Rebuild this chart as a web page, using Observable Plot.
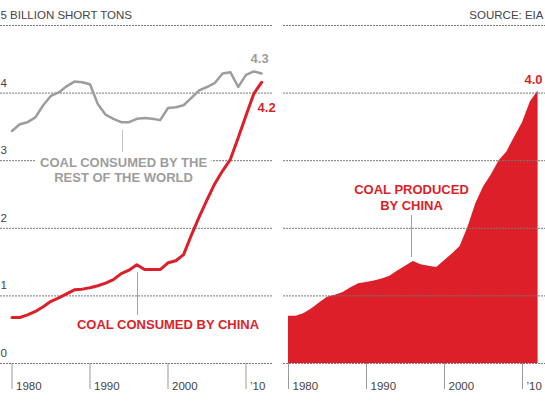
<!DOCTYPE html>
<html><head><meta charset="utf-8">
<script src="https://cdn.jsdelivr.net/npm/d3@7"></script>
<script src="https://cdn.jsdelivr.net/npm/@observablehq/plot@0.6"></script>
<style>
html,body{margin:0;padding:0;background:#fff;}
#chart{position:relative;width:545px;height:405px;overflow:hidden;}
#left,#right{position:absolute;top:0;}
#left{left:0;} #right{left:275px;}
svg{overflow:visible;}
</style></head><body>
<div id="chart"><div id="left"></div><div id="right"></div></div>
<script>
const years = [1980,1981,1982,1983,1984,1985,1986,1987,1988,1989,1990,1991,1992,1993,1994,1995,1996,1997,1998,1999,2000,2001,2002,2003,2004,2005,2006,2007,2008,2009,2010,2011,2012];
const restOfWorld = [3.44,3.54,3.57,3.64,3.82,3.96,4.01,4.10,4.17,4.16,4.13,3.84,3.68,3.62,3.57,3.57,3.62,3.63,3.62,3.60,3.78,3.79,3.82,3.93,4.04,4.09,4.15,4.29,4.31,4.09,4.27,4.32,4.29];
const chinaConsumed = [0.68,0.68,0.72,0.77,0.84,0.92,0.97,1.03,1.09,1.10,1.12,1.15,1.19,1.24,1.33,1.38,1.46,1.39,1.39,1.39,1.49,1.52,1.61,1.90,2.17,2.42,2.66,2.85,3.02,3.34,3.67,3.99,4.16];
const chinaProduced = [0.70,0.70,0.74,0.81,0.90,0.98,1.01,1.05,1.12,1.18,1.20,1.22,1.25,1.29,1.37,1.44,1.51,1.46,1.44,1.42,1.52,1.62,1.73,2.01,2.36,2.61,2.79,3.00,3.13,3.35,3.56,3.87,4.03];
const yTicks = [0,1,2,3,4,5];
const yTickLabels = ["0","1","2","3","4","5 BILLION SHORT TONS"];
const xTicks = [1980,1990,2000,2010];
const xTickLabels = ["1980","1990","2000","\u201910"];
const sourceText = "SOURCE: EIA";

// annotations (data units)
const greyNote = {x: 1994.3, y: 2.692, text: "COAL CONSUMED BY THE\nREST OF THE WORLD"};
const greyPointer = {x: 1994.17, y1: 3.447, y2: 3.121};
const redNote = {x: 2000.0, y: 0.503, text: "COAL CONSUMED BY CHINA"};
const redPointer = {x: 1996.09, y1: 1.346, y2: 0.71};
const prodNote = {x: 1995.77, y: 2.278, text: "COAL PRODUCED\nBY CHINA"};
const prodPointer = {x: 1995.77, y1: 2.19, y2: 1.568};

const RED = "#dc1f29", GREY = "#9d9d9d", INK = "#444", GRID = "#777";
const FONT = "'Liberation Sans', Arial, Helvetica, sans-serif";

const rows = years.map((year, i) => ({year, rest: restOfWorld[i], consumed: chinaConsumed[i], produced: chinaProduced[i]}));
const last = rows[rows.length - 1];

const left = Plot.plot({
  width: 275, height: 405,
  marginLeft: 0, marginRight: 3, marginTop: 25, marginBottom: 42,
  x: {domain: [1978.526, 2013.397]},
  y: {domain: [0, 5], axis: null},
  style: {fontFamily: FONT, background: "transparent", overflow: "visible"},
  marks: [
    Plot.ruleY(yTicks, {y: d => d, stroke: GRID, strokeDasharray: "2,1"}),
    Plot.text(yTicks, {y: d => d, text: (d, i) => yTickLabels[i], frameAnchor: "left", textAnchor: "start", lineAnchor: "bottom", dy: -6.5, fontSize: 11.5, fill: INK}),
    Plot.axisX(xTicks, {tickSize: 26, fill: "none", stroke: "#999"}),
    Plot.text(xTicks, {x: d => d, text: (d, i) => xTickLabels[i], frameAnchor: "bottom", dy: 26, dx: 4, lineAnchor: "bottom", textAnchor: "start", fontSize: 11.5, fill: INK}),
    Plot.text([greyNote], {x: "x", y: "y", text: "text", lineAnchor: "bottom", lineHeight: 1.154, fontSize: 13, fontWeight: "bold", fill: GREY, stroke: "white", strokeWidth: 10, strokeLinejoin: "round", paintOrder: "stroke"}),
    Plot.ruleX([greyPointer], {x: "x", y1: "y1", y2: "y2", stroke: "#c4c4c4", strokeWidth: 1}),
    Plot.ruleX([redPointer], {x: "x", y1: "y1", y2: "y2", stroke: RED, strokeOpacity: 0.55, strokeWidth: 1}),
    Plot.line(rows, {x: "year", y: "rest", stroke: GREY, strokeWidth: 2.5}),
    Plot.line(rows, {x: "year", y: "consumed", stroke: RED, strokeWidth: 3}),
    Plot.text([redNote], {x: "x", y: "y", text: "text", lineAnchor: "bottom", fontSize: 13, fontWeight: "bold", fill: RED}),
    Plot.text([last], {x: "year", y: "rest", text: d => d.rest.toFixed(1), textAnchor: "middle", lineAnchor: "bottom", dx: -2, dy: -10, fontSize: 13, fontWeight: "bold", fill: GREY}),
    Plot.text([last], {x: "year", y: "consumed", text: d => d.consumed.toFixed(1), textAnchor: "start", lineAnchor: "bottom", dx: -4, dy: 30, fontSize: 13, fontWeight: "bold", fill: RED})
  ]
});
document.getElementById("left").appendChild(left);

const right = Plot.plot({
  width: 270, height: 405,
  marginLeft: 8, marginRight: 0, marginTop: 25, marginBottom: 42,
  x: {domain: [1979.359, 2012.949]},
  y: {domain: [0, 5], axis: null},
  style: {fontFamily: FONT, background: "transparent", overflow: "visible"},
  marks: [
    Plot.areaY(rows, {x: "year", y: "produced", fill: RED}),
    Plot.ruleY(yTicks, {y: d => d, stroke: GRID, strokeDasharray: "2,1"}),
    Plot.text([sourceText], {text: d => d, frameAnchor: "top-right", textAnchor: "end", lineAnchor: "bottom", dx: -2, dy: -6.5, fontSize: 11.5, fill: INK}),
    Plot.axisX(xTicks, {tickSize: 26, fill: "none", stroke: "#999"}),
    Plot.text(xTicks, {x: d => d, text: (d, i) => xTickLabels[i], frameAnchor: "bottom", dy: 26, dx: 4, lineAnchor: "bottom", textAnchor: "start", fontSize: 11.5, fill: INK}),
    Plot.ruleX([prodPointer], {x: "x", y1: "y1", y2: "y2", stroke: RED, strokeOpacity: 0.55, strokeWidth: 1}),
    Plot.text([prodNote], {x: "x", y: "y", text: "text", lineAnchor: "bottom", lineHeight: 1.23, fontSize: 13, fontWeight: "bold", fill: RED}),
    Plot.text([last], {x: "year", y: "produced", text: d => d.produced.toFixed(1), textAnchor: "end", lineAnchor: "bottom", dx: 4.5, dy: -7.5, fontSize: 13, fontWeight: "bold", fill: RED})
  ]
});
document.getElementById("right").appendChild(right);
</script>
</body></html>
